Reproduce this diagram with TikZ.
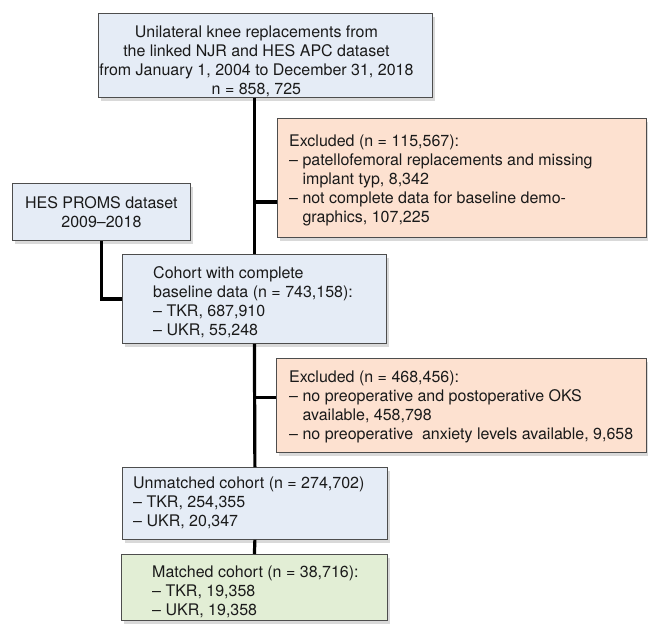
\documentclass[tikz,border=0pt]{standalone}
\usepackage{fontspec}
\setmainfont{TeX Gyre Heros}
\usepackage{tikz}
\usetikzlibrary{positioning,shadows,calc}
\usepackage{xcolor}
\definecolor{boxblue}{HTML}{E5ECF6}
\definecolor{boxpeach}{HTML}{FDE1D0}
\definecolor{boxgreen}{HTML}{E2EED5}
\definecolor{boxline}{HTML}{4D4D4D}
\definecolor{txtgrey}{HTML}{1A1A1A}
\newcommand{\hang}{\phantom{– }}
\newcommand{\boxfont}{\fontsize{16}{19}\selectfont}

\begin{document}
\begin{tikzpicture}[x=1pt,y=-1pt,
	box/.style={rectangle, draw=boxline, line width=0.8pt, anchor=north west, inner sep=0pt,
		drop shadow={shadow xshift=2.5pt, shadow yshift=-3.5pt, opacity=0.3}},
	bluebox/.style={box, fill=boxblue},
	exclbox/.style={box, fill=boxpeach},
	greenbox/.style={box, fill=boxgreen},
	txt/.style={inner sep=0pt, align=left, font=\boxfont, text=txtgrey},
	conn/.style={draw=black, line width=3.2pt}]
	\useasboundingbox (0,0) rectangle (648,624);

	% boxes
	\node[bluebox, minimum width=334pt, minimum height=84pt] (top) at (98,13) {};
	\node[exclbox, minimum width=369pt, minimum height=119pt] (excl1) at (277,118) {};
	\node[bluebox, minimum width=178pt, minimum height=57pt] (hes) at (12,183) {};
	\node[bluebox, minimum width=264pt, minimum height=89pt] (cohort) at (122,254) {};
	\node[exclbox, minimum width=370pt, minimum height=94pt] (excl2) at (276,358) {};
	\node[bluebox, minimum width=265pt, minimum height=72pt] (unmatched) at (122,467) {};
	\node[greenbox, minimum width=266pt, minimum height=66pt] (matched) at (121,554) {};

	% texts
	\node[txt, align=center, anchor=north] (top-t) at ([shift={(-9,13)}]top.north)
		{Unilateral knee replacements from\\the linked NJR and HES APC dataset\\from January 1, 2004 to December 31, 2018\\n = 858, 725};
	\node[txt, anchor=north west] (excl1-t) at ([shift={(12,17)}]excl1.north west)
		{Excluded (n = 115,567):\\– patellofemoral replacements and missing\\\hang implant typ, 8,342\\– not complete data for baseline demo-\\\hang graphics, 107,225};
	\node[txt, align=center] (hes-t) at (hes.center) {HES PROMS dataset\\2009–2018};
	\node[txt, anchor=north west] (cohort-t) at ([shift={(31,12)}]cohort.north west)
		{Cohort with complete\\baseline data (n = 743,158):\\– TKR, 687,910\\– UKR, 55,248};
	\node[txt, anchor=north west] (excl2-t) at ([shift={(13,13)}]excl2.north west)
		{Excluded (n = 468,456):\\– no preoperative and postoperative OKS\\\hang available, 458,798\\– no preoperative\ \ anxiety levels available, 9,658};
	\node[txt, anchor=north west] (unmatched-t) at ([shift={(11,10)}]unmatched.north west)
		{Unmatched cohort (n = 274,702)\\– TKR, 254,355\\– UKR, 20,347};
	\node[txt, anchor=north west] (matched-t) at ([shift={(31,12)}]matched.north west)
		{Matched cohort (n = 38,716):\\– TKR, 19,358\\– UKR, 19,358};

	% branch points on the main line
	\path (cohort.north) ++(0,-52) coordinate (brA);
	\path (cohort.south) ++(0,54) coordinate (brB);

	\draw[conn] (top.south -| cohort.north) -- (cohort.north);
	\draw[conn] (cohort.south) -- (unmatched.north);
	\draw[conn] (unmatched.south) -- (matched.north);
	\draw[conn] (brA) -- (brA -| excl1.west);
	\draw[conn] (brB) -- (brB -| excl2.west);
	\draw[conn] (hes.south) |- (cohort.west);
	%\draw[conn] (hes.east) -| (cohort.north);

\end{tikzpicture}
\end{document}
